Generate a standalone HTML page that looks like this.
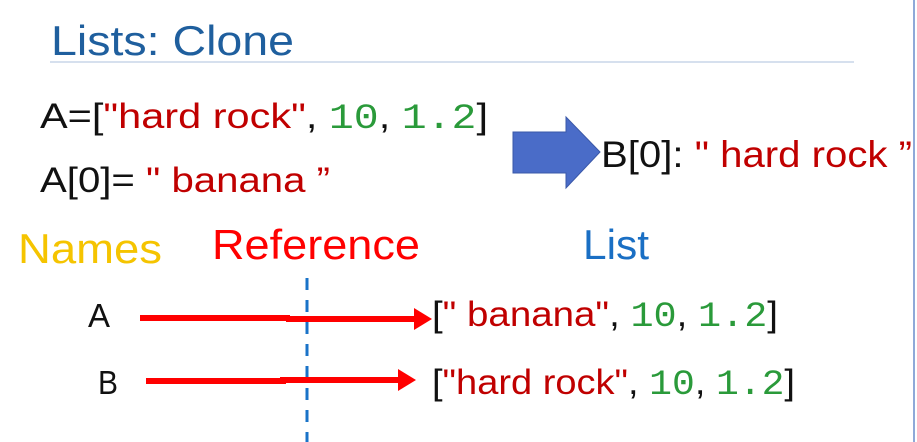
<!DOCTYPE html>
<html><head><meta charset="utf-8"><style>
html,body{margin:0;padding:0;background:#fff;width:917px;height:442px;overflow:hidden}
svg{display:block}
text{font-family:"Liberation Sans",sans-serif}
.m{font-family:"Liberation Mono",monospace;fill:#2a9a3a}
.r{fill:#c00000}
</style></head><body>
<svg width="917" height="442" viewBox="0 0 917 442">
<rect width="917" height="442" fill="#fff"/>
<line x1="914" y1="0" x2="914" y2="442" stroke="#8fa9d8" stroke-width="2"/>
<text x="51" y="55" font-size="42" fill="#1f5f9e" textLength="243" lengthAdjust="spacingAndGlyphs">Lists: Clone</text>
<line x1="50" y1="62" x2="854" y2="62" stroke="#d6e0ee" stroke-width="2"/>

<text x="40" y="128" font-size="35" fill="#111" textLength="448" lengthAdjust="spacingAndGlyphs">A=[<tspan class="r">"hard rock"</tspan>, <tspan class="m">10</tspan>, <tspan class="m">1.2</tspan>]</text>
<text x="40" y="192" font-size="35" fill="#111" textLength="290" lengthAdjust="spacingAndGlyphs">A[0]= <tspan class="r">" banana ”</tspan></text>

<polygon points="513,132 566,132 566,117 600,152 566,188 566,173 513,173" fill="#4a6cc8" stroke="#3a58a8" stroke-width="1"/>
<text x="601" y="167" font-size="37" fill="#111" textLength="311" lengthAdjust="spacingAndGlyphs">B[0]: <tspan class="r">" hard rock ”</tspan></text>

<text x="18" y="263" font-size="42" fill="#f5c400" textLength="144" lengthAdjust="spacingAndGlyphs">Names</text>
<text x="212" y="259" font-size="42" fill="#ff0000" textLength="208" lengthAdjust="spacingAndGlyphs">Reference</text>
<text x="583" y="259" font-size="42" fill="#1a6fc4" textLength="66" lengthAdjust="spacingAndGlyphs">List</text>

<line x1="307" y1="278" x2="307" y2="442" stroke="#1a73c8" stroke-width="3" stroke-dasharray="12,10"/>

<text x="88" y="327" font-size="33" fill="#111" textLength="22" lengthAdjust="spacingAndGlyphs">A</text>
<rect x="140" y="315" width="150" height="6" fill="#ff0000"/>
<rect x="286" y="316" width="130" height="6" fill="#ff0000"/>
<polygon points="414,308 432,319 414,330" fill="#ff0000"/>
<text x="432" y="326" font-size="35" fill="#111" textLength="346" lengthAdjust="spacingAndGlyphs">[<tspan class="r">" banana"</tspan>, <tspan class="m">10</tspan>, <tspan class="m">1.2</tspan>]</text>

<text x="98" y="394" font-size="33" fill="#111" textLength="20" lengthAdjust="spacingAndGlyphs">B</text>
<rect x="146" y="378" width="140" height="6" fill="#ff0000"/>
<rect x="280" y="377" width="120" height="6" fill="#ff0000"/>
<polygon points="398,369 416,380 398,391" fill="#ff0000"/>
<text x="432" y="394" font-size="35" fill="#111" textLength="363" lengthAdjust="spacingAndGlyphs">[<tspan class="r">"hard rock"</tspan>, <tspan class="m">10</tspan>, <tspan class="m">1.2</tspan>]</text>
</svg>
</body></html>
